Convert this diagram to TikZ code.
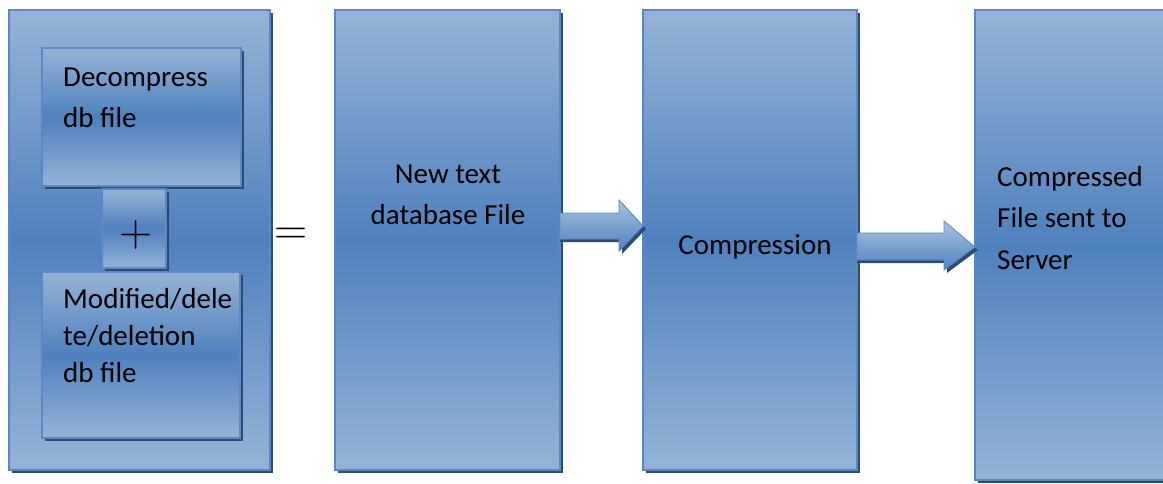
\documentclass[tikz,border=0pt]{standalone}
\usepackage{fontspec}
\setmainfont{Carlito}
\newfontfamily\lmfont{Latin Modern Roman}
\usetikzlibrary{shadows,calc}
\definecolor{lightb}{HTML}{95B3D7}
\definecolor{darkb}{HTML}{4F81BD}
\definecolor{edgeb}{HTML}{5B87C4}
\definecolor{shadowb}{HTML}{2C4C74}
\begin{document}
\begin{tikzpicture}[x=1pt,y=-1pt,
  box/.style={draw=edgeb, line width=1.5pt, top color=lightb, bottom color=lightb, middle color=darkb,
    inner sep=0pt, outer sep=0pt, anchor=north west,
    general shadow={fill=shadowb, shadow xshift=3pt, shadow yshift=-3pt}},
  txt/.style={font=\fontsize{29}{41}\selectfont, inner sep=0pt, align=left, anchor=north west},
  ctxt/.style={font=\fontsize{29}{41}\selectfont, inner sep=0pt, align=center, anchor=north},
  sym/.style={inner sep=0pt, font=\lmfont\fontsize{46}{46}\selectfont},
  blockarrow/.style={draw=edgeb, line width=0.8pt, top color=lightb!80!white, bottom color=darkb},
  arrowshadow/.style={fill=shadowb}
]
\useasboundingbox (0,0) rectangle (1163,483);
\node[box, minimum width=261pt, minimum height=460pt] (outer) at (9,10) {};
\node[box, minimum width=199pt, minimum height=138pt] (dec) at (42,48) {};
\node[box, minimum width=64pt, minimum height=79pt] (plus) at (102,189) {};
\node[box, minimum width=198pt, minimum height=166pt] (mod) at (42,272) {};
\node[box, minimum width=225pt, minimum height=460pt] (nt) at (335,10) {};
\node[box, minimum width=214pt, minimum height=460pt] (cmp) at (643,10) {};
\node[box, minimum width=200pt, minimum height=470pt] (srv) at (975,10) {};

\node[txt] (dect) at (63,68) {Decompress\\db file};
\node[txt, font=\fontsize{29}{37.3}\selectfont] (modt) at (63,288) {Modified/dele\\te/deletion\\db file};
\node[sym] (plust) at (136,235) {+};
\node[sym] (eq) at (291,236) {=};
\node[ctxt] (ntt) at (448,165) {New text\\database File};
\node[ctxt] (cmpt) at (755,234) {Compression};
\node[txt, font=\fontsize{29}{41.5}\selectfont] (srvt) at (997,166) {Compressed\\File sent to\\Server};

% block arrows
\path[arrowshadow] let \p1=(nt.east), \p2=(cmp.west) in
  (\x1,216) -- (622,216) -- (622,203) -- (\x2+3,229) -- (622,254) -- (622,242) -- (\x1,242) -- cycle;
\path[blockarrow] let \p1=(nt.east), \p2=(cmp.west) in
  (\x1,213) -- (619,213) -- (619,200) -- (\x2,226) -- (619,251) -- (619,239) -- (\x1,239) -- cycle;
\path[arrowshadow] let \p1=(cmp.east), \p2=(srv.west) in
  (\x1,236) -- (947,236) -- (947,224) -- (\x2+3,250) -- (947,273) -- (947,263) -- (\x1,263) -- cycle;
\path[blockarrow] let \p1=(cmp.east), \p2=(srv.west) in
  (\x1,233) -- (944,233) -- (944,221) -- (\x2,247) -- (944,270) -- (944,260) -- (\x1,260) -- cycle;
\end{tikzpicture}
\end{document}
